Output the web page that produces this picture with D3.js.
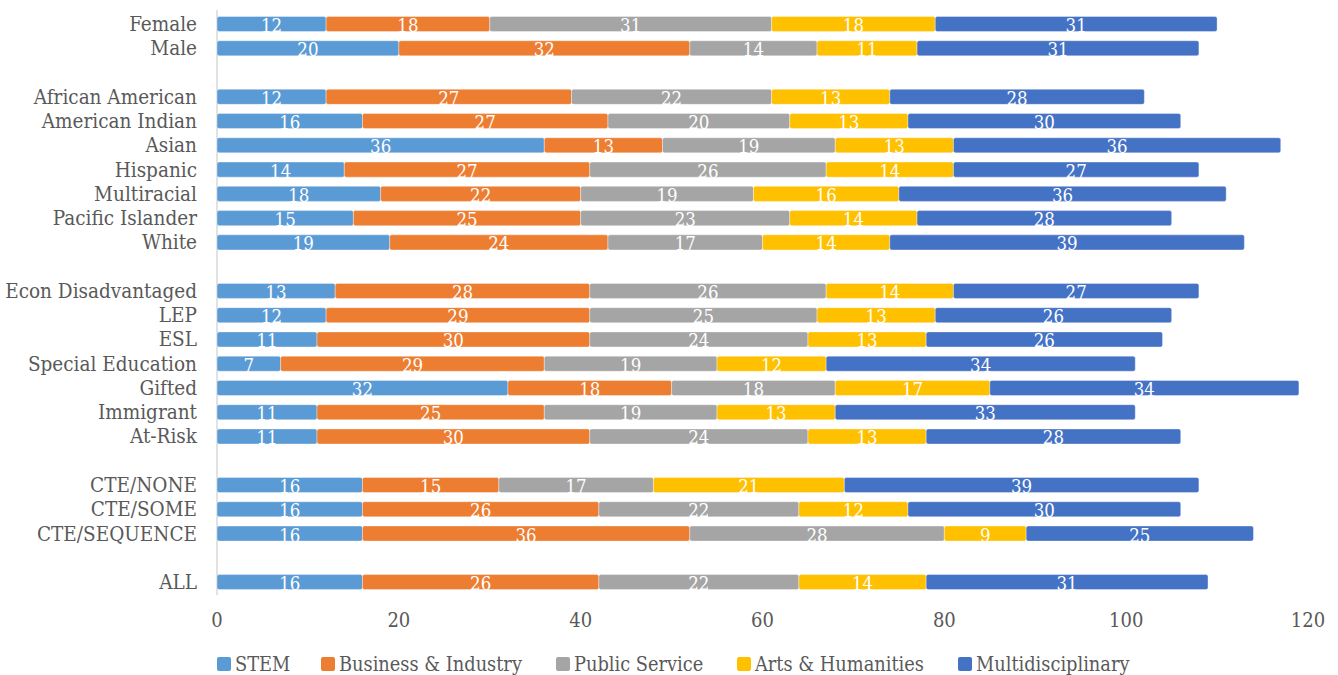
<!DOCTYPE html>
<html><head><meta charset="utf-8">
<script src="https://cdn.jsdelivr.net/npm/d3@7"></script>
<style>
html,body{margin:0;padding:0;background:#fff;}
svg text{font-family:"DejaVu Serif Condensed","DejaVu Serif",serif;}
</style></head>
<body><svg id="c" width="1338" height="675"></svg>
<script>
const categories = ["Female","Male","_g1","African American","American Indian","Asian","Hispanic","Multiracial","Pacific Islander","White","_g2","Econ Disadvantaged","LEP","ESL","Special Education","Gifted","Immigrant","At-Risk","_g3","CTE/NONE","CTE/SOME","CTE/SEQUENCE","_g4","ALL"];
const seriesNames = ["STEM","Business & Industry","Public Service","Arts & Humanities","Multidisciplinary"];
const stem      = [12,20,null,12,16,36,14,18,15,19,null,13,12,11,7,32,11,11,null,16,16,16,null,16];
const business  = [18,32,null,27,27,13,27,22,25,24,null,28,29,30,29,18,25,30,null,15,26,36,null,26];
const publicSvc = [31,14,null,22,20,19,26,19,23,17,null,26,25,24,19,18,19,24,null,17,22,28,null,22];
const arts      = [18,11,null,13,13,13,14,16,14,14,null,14,13,13,12,17,13,13,null,21,12,9,null,14];
const multi     = [31,31,null,28,30,36,27,36,28,39,null,27,26,26,34,34,33,28,null,39,30,25,null,31];
const xTicks = [0,20,40,60,80,100,120];
const colors = ["#5B9BD5","#ED7D31","#A5A5A5","#FFC000","#4472C4"];

const seriesVals = [stem,business,publicSvc,arts,multi];
const rows = categories.map((c,i)=>{const o={cat:c}; seriesNames.forEach((s,j)=>o[s]=seriesVals[j][i]||0); return o;});

const svg = d3.select("#c");
const x = d3.scaleLinear().domain([0,120]).range([217,1308]);
const y = d3.scaleBand().domain(categories).range([11.9,594.2]).paddingInner(0.38).paddingOuter(0.19);
const color = d3.scaleOrdinal().domain(seriesNames).range(colors);

const stacked = d3.stack().keys(seriesNames)(rows);

svg.append("line").attr("x1",x(0)).attr("x2",x(0)).attr("y1",10).attr("y2",595)
  .attr("stroke","#d9d9d9").attr("stroke-width",1.5);

const g = svg.append("g");
stacked.forEach(layer=>{
  const lg = g.append("g");
  layer.forEach((d,i)=>{
    if(!d.data[layer.key]) return;
    lg.append("rect")
      .attr("x",x(d[0])).attr("width",x(d[1])-x(d[0]))
      .attr("y",y(d.data.cat)).attr("height",y.bandwidth())
      .attr("rx",2).attr("fill",color(layer.key))
      .attr("stroke","rgba(255,255,255,0.35)").attr("stroke-width",1);
    lg.append("text")
      .attr("x",(x(d[0])+x(d[1]))/2).attr("y",y(d.data.cat)+y.bandwidth()/2+8)
      .attr("text-anchor","middle").attr("fill","#fff").attr("font-size",18.5)
      .text(d.data[layer.key]);
  });
});

svg.append("g").selectAll("text").data(categories.filter(c=>!c.startsWith("_"))).join("text")
  .attr("x",197).attr("y",c=>y(c)+y.bandwidth()/2+7)
  .attr("text-anchor","end").attr("fill","#595959").attr("font-size",20.5)
  .text(c=>c);

svg.append("g").selectAll("text").data(xTicks).join("text")
  .attr("x",d=>x(d)).attr("y",627).attr("text-anchor","middle")
  .attr("fill","#595959").attr("font-size",20).text(d=>d);

const legX = [217,321,556,737,958];
const lgd = svg.append("g");
seriesNames.forEach((s,i)=>{
  lgd.append("rect").attr("x",legX[i]).attr("y",657).attr("width",14).attr("height",14).attr("rx",2).attr("fill",colors[i]);
  lgd.append("text").attr("x",legX[i]+18).attr("y",671).attr("fill","#595959").attr("font-size",19.8).text(s);
});
</script></body></html>
